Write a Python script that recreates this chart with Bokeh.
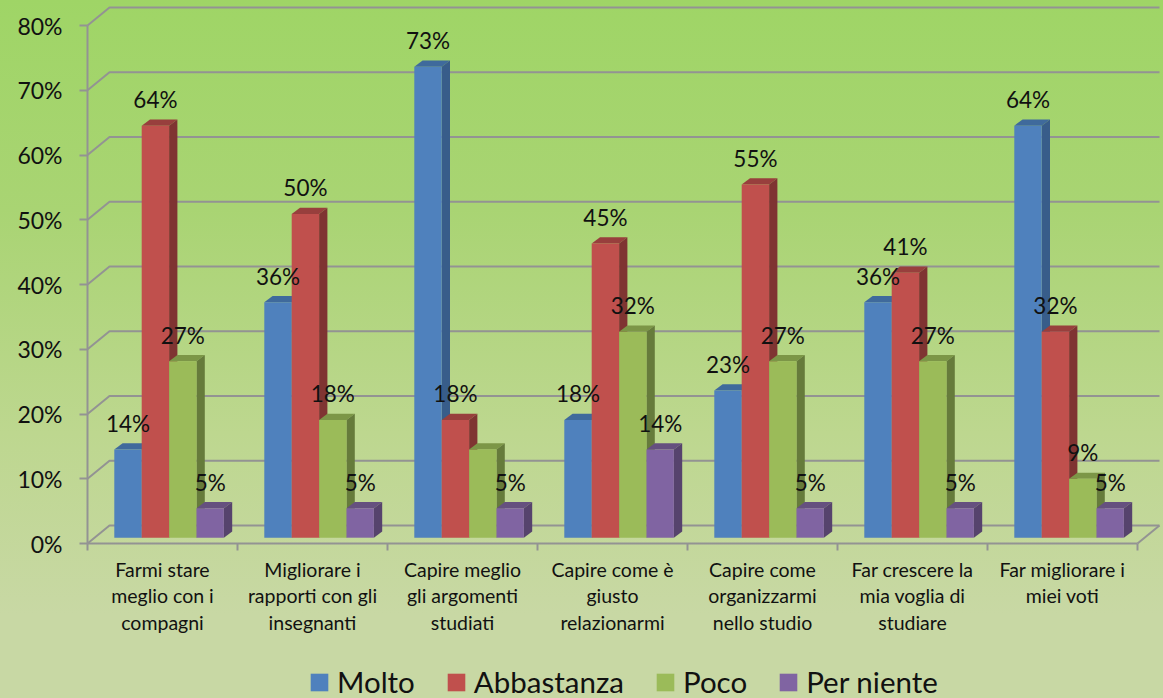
from bokeh.embed import file_html
from bokeh.resources import INLINE
from bokeh.plotting import figure
from bokeh.models import (ColumnDataSource, FixedTicker, GlobalInlineStyleSheet, Legend, LegendItem,
                          PrintfTickFormatter, Range1d)
from bokeh.core.properties import value

categories = ["Farmi stare\nmeglio con i\ncompagni", "Migliorare i\nrapporti con gli\ninsegnanti",
              "Capire meglio\ngli argomenti\nstudiati", "Capire come è\ngiusto\nrelazionarmi",
              "Capire come\norganizzarmi\nnello studio", "Far crescere la\nmia voglia di\nstudiare",
              "Far migliorare i\nmiei voti"]
series_names = ["Molto", "Abbastanza", "Poco", "Per niente"]
molto = [13.64, 36.36, 72.73, 18.18, 22.73, 36.36, 63.64]
abbastanza = [63.64, 50.0, 18.18, 45.45, 54.55, 40.91, 31.82]
poco = [27.27, 18.18, 13.64, 31.82, 27.27, 27.27, 9.09]
per_niente = [4.55, 4.55, 4.55, 13.64, 4.55, 4.55, 4.55]
molto_labels = ["14%", "36%", "73%", "18%", "23%", "36%", "64%"]
abbastanza_labels = ["64%", "50%", "18%", "45%", "55%", "41%", "32%"]
poco_labels = ["27%", "18%", "", "32%", "27%", "27%", "9%"]
per_niente_labels = ["5%", "5%", "5%", "14%", "5%", "5%", "5%"]
y_ticks = [0, 10, 20, 30, 40, 50, 60, 70, 80]
front_colors = ["#4F81BD", "#C0504D", "#9BBB59", "#8064A2"]
side_colors = ["#385D8A", "#7F3432", "#667B3B", "#56436D"]
top_colors = ["#3F6A9C", "#983F3D", "#7C9647", "#65507F"]
FONT = "Lato"

PX_X = 150.0          # pixels per category
PX_Y = 6.475          # pixels per percent
WALL_DX, WALL_DY = 22 / PX_X, 18 / PX_Y
BAR_DX, BAR_DY = 8.3 / PX_X, 6.2 / PX_Y
BAR_W = 27.4 / PX_X
BAR_X0 = 26.8 / PX_X
BAR_Y0 = 5.8 / PX_Y

css = ("html{height:100%;overflow:hidden;"
       "background:linear-gradient(180deg,#9FD566 0%,#A9D473 30%,#BDD78F 62%,#C8D8A4 88%,#C8D8A4 100%);}"
       "body{background:transparent;}")

p = figure(width=1163, height=698, output_backend="svg", toolbar_location=None,
           x_range=Range1d(-87 / PX_X, (1163 - 87) / PX_X), y_range=Range1d(-155 / PX_Y, 543 / PX_Y),
           min_border_left=0, min_border_right=0, min_border_top=0, min_border_bottom=0,
           background_fill_alpha=0, border_fill_alpha=0, outline_line_color=None,
           stylesheets=[GlobalInlineStyleSheet(css=css)])
p.grid.visible = False

# axes
n = len(categories)
xa = p.xaxis[0]
xa.fixed_location = 0
xa.ticker = FixedTicker(ticks=[i + 0.5 for i in range(n)], minor_ticks=list(range(n + 1)))
xa.major_label_overrides = {i + 0.5: c for i, c in enumerate(categories)}
xa.bounds = (0, n)
xa.major_tick_line_color = None
xa.minor_tick_out = 7
xa.minor_tick_in = 0
xa.minor_tick_line_color = "#939393"
xa.minor_tick_line_width = 2
xa.axis_line_color = "#939393"
xa.axis_line_width = 2
xa.major_label_text_font = FONT
xa.major_label_text_font_size = "19.5px"
xa.major_label_text_color = "#111111"
xa.major_label_text_line_height = 1.16
xa.major_label_standoff = 7

ya = p.yaxis[0]
ya.fixed_location = 0
ya.ticker = FixedTicker(ticks=y_ticks)
ya.formatter = PrintfTickFormatter(format="%d%%")
ya.bounds = (0, 80)
ya.major_tick_out = 8
ya.major_tick_in = 0
ya.minor_tick_line_color = None
ya.major_tick_line_color = "#939393"
ya.major_tick_line_width = 2
ya.axis_line_color = "#939393"
ya.axis_line_width = 2
ya.major_label_text_font = FONT
ya.major_label_text_font_size = "23px"
ya.major_label_text_color = "#111111"
ya.major_label_standoff = 17

# walls and floor
xs = [[0, WALL_DX, n + WALL_DX] for _ in y_ticks] + [[n, n + WALL_DX]]
ys = [[t, t + WALL_DY, t + WALL_DY] for t in y_ticks] + [[0, WALL_DY]]
p.multi_line(xs, ys, line_color="#939393", line_width=2)

# bars
all_series = [molto, abbastanza, poco, per_niente]
all_labels = [molto_labels, abbastanza_labels, poco_labels, per_niente_labels]
legend_items = []
for s, vals in enumerate(all_series):
    left = [i + BAR_X0 + s * BAR_W for i in range(n)]
    right = [l + BAR_W for l in left]
    top = [v + BAR_Y0 for v in vals]
    bottom = [BAR_Y0] * n
    p.patches([[l, l + BAR_DX, r + BAR_DX, r] for l, r in zip(left, right)],
              [[t, t + BAR_DY, t + BAR_DY, t] for t in top],
              fill_color=top_colors[s], line_color=None)
    p.patches([[r, r + BAR_DX, r + BAR_DX, r] for r in right],
              [[BAR_Y0, BAR_Y0 + BAR_DY, t + BAR_DY, t] for t in top],
              fill_color=side_colors[s], line_color=None)
    q = p.quad(left=left, right=right, bottom=bottom, top=top, fill_color=front_colors[s], line_color=None)
    legend_items.append(LegendItem(label=series_names[s], renderers=[q]))

# data labels
for s, vals in enumerate(all_series):
    src = ColumnDataSource(dict(x=[i + BAR_X0 + (s + 0.5) * BAR_W for i in range(n)],
                                y=[v + BAR_Y0 for v in vals],
                                t=all_labels[s]))
    p.text("x", "y", text="t", source=src, text_align="center", text_baseline="middle", y_offset=-26,
           text_font=value(FONT), text_font_size="22.5px", text_color="#111111")

legend = Legend(items=legend_items, orientation="horizontal", location=(308, -1),
                background_fill_alpha=0, border_line_color=None, padding=0, margin=0,
                glyph_width=22, glyph_height=22, label_height=22, label_standoff=7, spacing=30,
                label_text_font=FONT, label_text_font_size="29.5px", label_text_color="#111111",
                label_text_baseline="middle")
p.add_layout(legend, "center")

open("out.html", "w").write(file_html(p, INLINE))
